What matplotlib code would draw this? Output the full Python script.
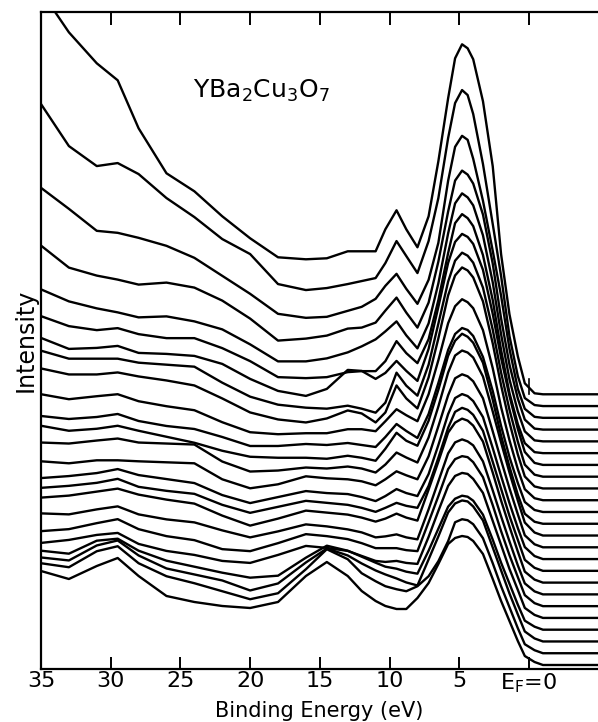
import matplotlib.pyplot as plt
import numpy as np

plt.rcParams['font.family'] = ['DejaVu Sans']
plt.rcParams['mathtext.default'] = 'regular'

# binding energy grid (eV) shared by every spectrum
energy = [35, 33, 31, 29.5, 28, 26, 24, 22, 20, 18, 16, 14.5, 13, 12, 11,
          10.3, 9.5, 8.8, 8, 7.2, 6.5, 5.8, 5.3, 4.8, 4.4, 4, 3.3, 2.6, 2,
          1.4, 0.8, 0.3, -0.4, -1, -5]

# EDC intensities (arb. units), listed from the top spectrum to the bottom one
spectra = [
    [403, 362, 331, 314, 266, 221, 203, 178, 156, 137, 135, 136, 143, 143, 143, 165, 184, 165, 147, 178, 233, 296, 336, 350, 346, 335, 293, 228, 140, 80, 38, 11, 1, 0, 0],
    [302, 260, 240, 243, 232, 208, 189, 167, 152, 122, 116, 118, 122, 125, 128, 143, 165, 150, 133, 165, 208, 268, 303, 316, 311, 292, 242, 182, 130, 70, 30, 8, 1, 0, 0],
    [230, 209, 187, 185, 180, 172, 160, 142, 124, 104, 100, 101, 107, 111, 119, 132, 144, 129, 114, 138, 175, 237, 271, 282, 278, 259, 217, 167, 122, 69, 29, 9, 1, 0, 0],
    [184, 162, 154, 150, 145, 147, 142, 129, 111, 89, 91, 94, 101, 102, 107, 119, 132, 117, 102, 127, 168, 218, 249, 259, 255, 246, 215, 166, 111, 65, 31, 10, 1, 0, 0],
    [152, 140, 133, 129, 124, 125, 120, 112, 97, 80, 80, 83, 89, 95, 102, 110, 120, 106, 93, 118, 158, 208, 238, 248, 244, 236, 206, 159, 107, 62, 30, 10, 1, 0, 0],
    [137, 127, 123, 125, 119, 115, 115, 105, 92, 76, 75, 76, 81, 82, 82, 92, 112, 100, 90, 114, 153, 200, 230, 239, 235, 227, 198, 153, 103, 60, 29, 10, 1, 0, 0],
    [127, 116, 117, 119, 112, 111, 109, 101, 86, 74, 69, 76, 95, 94, 86, 92, 104, 94, 84, 116, 158, 202, 223, 231, 228, 221, 195, 151, 107, 69, 36, 13, 2, 0, 0],
    [126, 118, 118, 118, 114, 112, 110, 94, 80, 72, 69, 68, 71, 68, 64, 74, 104, 91, 81, 112, 153, 195, 216, 224, 221, 214, 189, 147, 104, 67, 35, 12, 2, 0, 0],
    [120, 114, 114, 116, 112, 108, 103, 90, 76, 69, 66, 70, 78, 75, 66, 76, 103, 90, 80, 111, 150, 193, 213, 221, 218, 211, 187, 145, 103, 66, 34, 12, 2, 0, 0],
    [106, 101, 104, 106, 99, 94, 90, 78, 68, 66, 67, 67, 71, 71, 69, 79, 91, 85, 79, 106, 140, 177, 194, 201, 198, 192, 170, 132, 93, 60, 31, 11, 2, 0, 0],
    [96, 93, 95, 98, 91, 86, 83, 75, 66, 66, 68, 67, 69, 67, 65, 75, 88, 81, 74, 98, 129, 162, 178, 184, 182, 176, 155, 121, 86, 55, 29, 10, 2, 0, 0],
    [98, 93, 95, 98, 93, 87, 81, 73, 67, 66, 66, 65, 68, 66, 63, 75, 91, 83, 78, 103, 134, 168, 183, 190, 187, 181, 161, 124, 88, 57, 29, 10, 2, 0, 0],
    [93, 92, 95, 97, 93, 92, 91, 74, 64, 65, 68, 67, 69, 67, 63, 71, 83, 78, 73, 98, 129, 163, 180, 185, 183, 178, 159, 124, 93, 63, 35, 13, 3, 0, 0],
    [86, 84, 87, 87, 86, 85, 84, 68, 59, 63, 71, 69, 68, 66, 62, 68, 76, 72, 68, 91, 121, 152, 169, 173, 171, 166, 149, 116, 87, 59, 33, 12, 3, 0, 0],
    [81, 83, 86, 90, 84, 80, 76, 64, 56, 62, 68, 66, 65, 62, 58, 63, 70, 66, 63, 85, 114, 145, 161, 165, 163, 158, 142, 111, 83, 56, 31, 12, 3, 0, 0],
    [83, 85, 88, 92, 84, 80, 77, 66, 58, 64, 70, 68, 66, 63, 59, 63, 68, 65, 63, 85, 113, 143, 159, 163, 161, 156, 140, 109, 82, 55, 31, 11, 3, 0, 0],
    [85, 87, 91, 94, 88, 83, 79, 67, 57, 64, 72, 70, 68, 65, 61, 64, 69, 65, 62, 93, 121, 150, 160, 164, 162, 157, 141, 110, 82, 56, 31, 11, 3, 0, 0],
    [81, 80, 85, 88, 80, 75, 72, 64, 57, 63, 70, 68, 65, 62, 57, 58, 60, 57, 55, 85, 113, 141, 152, 155, 153, 149, 133, 104, 78, 53, 29, 11, 3, 0, 0],
    [75, 77, 83, 87, 77, 70, 66, 57, 55, 63, 72, 70, 67, 63, 58, 58, 58, 56, 55, 84, 110, 137, 147, 150, 149, 144, 129, 101, 75, 51, 29, 11, 3, 0, 0],
    [75, 78, 83, 85, 74, 67, 63, 57, 55, 63, 72, 70, 67, 62, 57, 56, 57, 55, 54, 81, 107, 132, 142, 145, 144, 139, 125, 97, 73, 49, 28, 10, 3, 0, 0],
    [79, 76, 89, 91, 79, 69, 63, 57, 52, 54, 72, 84, 79, 73, 67, 63, 61, 58, 56, 79, 101, 123, 131, 134, 133, 129, 115, 90, 67, 46, 25, 9, 3, 0, 0],
    [84, 81, 96, 101, 86, 73, 67, 61, 51, 58, 79, 93, 86, 78, 71, 67, 63, 59, 56, 82, 105, 129, 138, 141, 140, 135, 121, 94, 71, 48, 27, 10, 3, 0, 0],
    [90, 86, 102, 107, 90, 77, 70, 62, 54, 60, 84, 104, 94, 80, 72, 67, 64, 62, 67, 77, 92, 112, 131, 134, 133, 129, 115, 90, 67, 46, 25, 9, 3, 0, 0],
    [94, 86, 99, 107, 89, 69, 63, 59, 57, 63, 89, 103, 89, 74, 64, 59, 56, 56, 67, 82, 101, 121, 127, 129, 128, 124, 111, 86, 64, 44, 24, 9, 3, 0, 0],
]

tick_pos = [35, 30, 25, 20, 15, 10, 5, 0]
tick_txt = ['35', '30', '25', '20', '15', '10', '5', 'E$_F$=0']

base = 4.0
step = 11.77

fig = plt.figure(figsize=(5.98, 7.22), dpi=100)
ax = fig.add_axes([41 / 598, 53 / 722, 557 / 598, 657 / 722])

n = len(spectra)
for i, counts in enumerate(spectra):
    k = n - 1 - i
    ax.plot(energy, np.array(counts) + base + k * step, color='black',
            lw=1.7, solid_joinstyle='round', solid_capstyle='round')

# Fermi level marker on the top spectrum
top_base = base + (n - 1) * step
ax.plot([0, 0], [top_base, top_base + 15], color='black', lw=1.2)

ax.set_xlim(35, -4.95)
ax.set_ylim(0, 657)
ax.set_xticks(tick_pos)
ax.set_xticklabels(tick_txt, fontsize=16)
ax.set_yticks([])
ax.tick_params(axis='x', direction='in', length=9, width=1.4, top=True,
               pad=1.5)
for side in ['left', 'bottom', 'top']:
    ax.spines[side].set_linewidth(1.6)
ax.spines['right'].set_visible(False)

ax.set_xlabel('Binding Energy (eV)', fontsize=15, va='bottom')
ax.xaxis.set_label_coords(0.5, -52 / 657)
ax.set_ylabel('Intensity', fontsize=17)
ax.yaxis.set_label_coords(-0.006, 0.5)

ax.text(0.273, 0.870, 'YBa$_2$Cu$_3$O$_7$', transform=ax.transAxes,
        fontsize=18, va='baseline', ha='left')

fig.savefig('out.png', dpi=100)
